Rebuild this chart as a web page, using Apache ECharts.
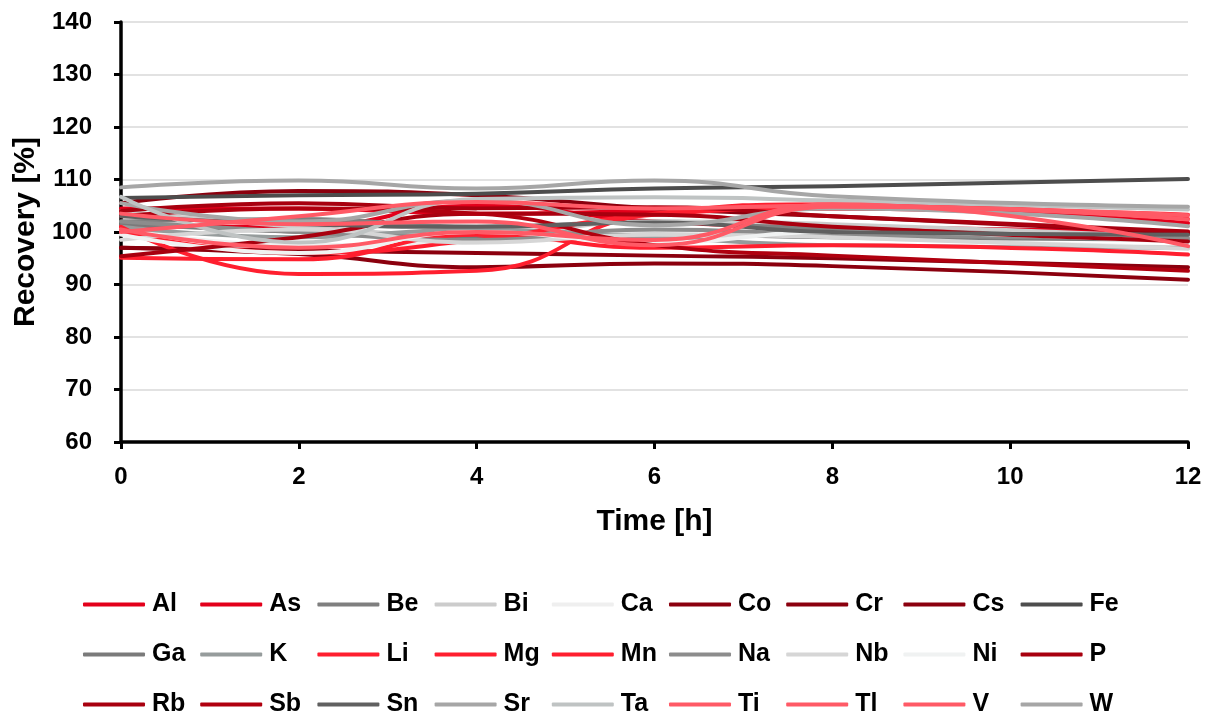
<!DOCTYPE html>
<html>
<head>
<meta charset="utf-8">
<script src="https://cdn.jsdelivr.net/npm/echarts@6/dist/echarts.min.js"></script>
<style>
  html, body { margin: 0; padding: 0; background: #fff; }
  #chart { width: 1215px; height: 718px; }
</style>
</head>
<body>
<div id="chart"></div>
<script>
// sampling times [h]
const times = [0, 2, 4, 6, 8, 12]

const elements = ['Al', 'As', 'Be', 'Bi', 'Ca', 'Co', 'Cr', 'Cs', 'Fe',
  'Ga', 'K', 'Li', 'Mg', 'Mn', 'Na', 'Nb', 'Ni', 'P',
  'Rb', 'Sb', 'Sn', 'Sr', 'Ta', 'Ti', 'Tl', 'V', 'W']

const colors = ['#E3001B', '#E3001B', '#7F7F7F', '#CCCCCC', '#EFEFEF', '#8B000E', '#8B000E', '#8B000E', '#4D4D4D',
  '#7A7A7A', '#969C9C', '#FF1F2F', '#FF1F2F', '#FF1F2F', '#8C8C8C', '#D6D6D6', '#F0F2F2', '#A8000F',
  '#A8000F', '#B0000F', '#606060', '#A6A6A6', '#BFC3C3', '#FF5A66', '#FF5A66', '#FF5A66', '#A6A6A6']

// recovery [%] at each sampling time
const Al = [104.5, 104.5, 103.5, 104.0, 104.5, 101.7]
const As = [101.0, 101.0, 105.0, 102.0, 101.0, 100.0]
const Be = [102.0, 102.5, 101.0, 102.0, 100.5, 99.5]
const Bi = [104.0, 101.0, 99.5, 102.0, 101.5, 99.0]
const Ca = [100.5, 97.5, 98.0, 99.7, 99.0, 97.0]
const Co = [105.5, 107.8, 107.0, 104.5, 103.0, 99.8]
const Cr = [97.0, 95.8, 93.3, 94.0, 93.5, 90.9]
const Cs = [97.0, 96.5, 96.0, 95.5, 95.0, 93.3]
const Fe = [106.5, 107.0, 107.3, 108.3, 108.7, 110.1]
const Ga = [101.5, 100.0, 99.0, 99.5, 99.0, 98.5]
const K = [101.0, 99.0, 100.5, 99.0, 97.5, 97.0]
const Li = [95.1, 94.8, 99.5, 97.0, 97.5, 95.7]
const Mg = [101.0, 92.0, 92.6, 103.5, 105.3, 102.5]
const Mn = [100.0, 96.0, 98.5, 103.3, 104.5, 103.3]
const Na = [102.0, 100.0, 98.5, 100.5, 99.5, 98.8]
const Nb = [98.5, 100.5, 98.0, 99.5, 99.0, 96.8]
const Ni = [99.5, 96.0, 100.0, 98.0, 100.0, 98.0]
const P = [104.0, 105.5, 104.5, 104.7, 103.0, 100.1]
const Rb = [95.4, 99.0, 103.5, 103.3, 101.0, 98.2]
const Sb = [103.0, 104.5, 103.5, 97.5, 95.5, 92.6]
const Sn = [103.0, 101.5, 101.0, 101.8, 100.0, 99.5]
const Sr = [105.5, 102.0, 106.0, 101.3, 104.5, 101.1]
const Ta = [106.7, 98.0, 106.3, 106.6, 106.0, 104.3]
const Ti = [100.0, 103.0, 105.7, 104.5, 105.0, 102.4]
const Tl = [103.5, 101.5, 102.0, 97.5, 104.8, 103.2]
const V = [100.5, 97.0, 100.0, 98.5, 105.3, 97.3]
const W = [108.5, 109.8, 108.3, 109.8, 106.8, 104.8]

const values = [Al, As, Be, Bi, Ca, Co, Cr, Cs, Fe, Ga, K, Li, Mg, Mn, Na, Nb, Ni, P,
  Rb, Sb, Sn, Sr, Ta, Ti, Tl, V, W]

const yTicks = { min: 60, max: 140, interval: 10 }
const xTicks = { min: 0, max: 12, interval: 2 }

const font = 'Liberation Sans, Arial, sans-serif'

const series = elements.map((name, i) => ({
  name: name,
  type: 'line',
  smooth: 0.5,
  symbol: 'none',
  color: colors[i],
  lineStyle: { width: 4, color: colors[i], cap: 'round' },
  data: times.map((t, j) => [t, values[i][j]])
}))

// one small legend per entry so the columns line up like the original
const legends = elements.map((name, i) => ({
  data: [name],
  left: 83 + (i % 9) * 117.2,
  top: 592 + Math.floor(i / 9) * 50,
  padding: 0,
  icon: 'roundRect',
  itemWidth: 62,
  itemHeight: 4,
  itemGap: 0,
  selectedMode: false,
  textStyle: { color: '#000', fontSize: 25, fontWeight: 'bold', fontFamily: font, padding: [0, 0, 0, 2] }
}))

const options = {
  backgroundColor: '#fff',
  animation: false,
  color: colors,
  legend: legends,
  grid: { left: 121, top: 22, width: 1067, height: 420 },
  xAxis: {
    type: 'value',
    min: xTicks.min,
    max: xTicks.max,
    interval: xTicks.interval,
    name: 'Time [h]',
    nameLocation: 'middle',
    nameGap: 65,
    nameTextStyle: { color: '#000', fontSize: 30, fontWeight: 'bold', fontFamily: font },
    axisLine: { lineStyle: { color: '#000', width: 3.5 } },
    axisTick: { inside: false, length: 7, lineStyle: { color: '#000', width: 3 } },
    axisLabel: { color: '#000', fontSize: 24, fontWeight: 'bold', fontFamily: font, margin: 23 },
    splitLine: { show: false }
  },
  yAxis: {
    type: 'value',
    min: yTicks.min,
    max: yTicks.max,
    interval: yTicks.interval,
    name: 'Recovery [%]',
    nameLocation: 'middle',
    nameGap: 80,
    nameTextStyle: { color: '#000', fontSize: 30, fontWeight: 'bold', fontFamily: font },
    axisLine: { show: true, lineStyle: { color: '#000', width: 3.5 } },
    axisTick: { show: true, inside: false, length: 7, lineStyle: { color: '#000', width: 3 } },
    axisLabel: { color: '#000', fontSize: 24, fontWeight: 'bold', fontFamily: font, margin: 29 },
    splitLine: { show: true, lineStyle: { color: '#D9D9D9', width: 1.5 } }
  },
  series: series
}

const chart = echarts.init(document.getElementById('chart'))
chart.setOption(options)
</script>
</body>
</html>
